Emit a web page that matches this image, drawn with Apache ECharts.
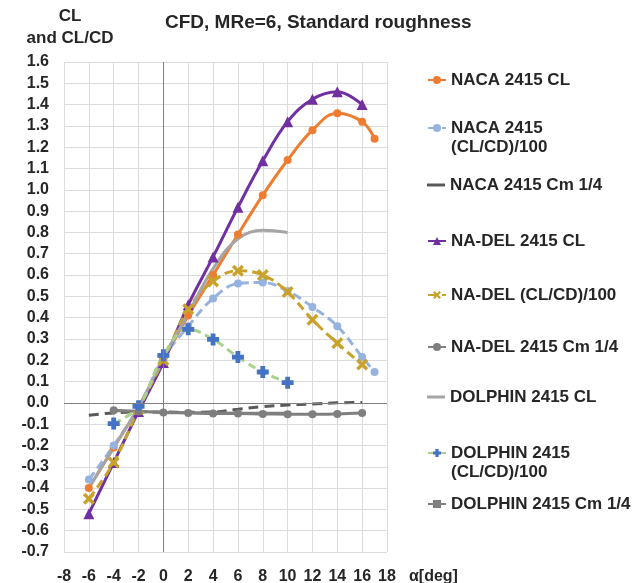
<!DOCTYPE html>
<html>
<head>
<meta charset="utf-8">
<script src="https://cdn.jsdelivr.net/npm/echarts@6/dist/echarts.min.js"></script>
<style>
  html, body { margin: 0; padding: 0; background: #fff; }
  #chart { width: 643px; height: 583px; }
</style>
</head>
<body>
<div id="chart"></div>
<script>
// angles of attack (deg)
const alphaNacaCL = [-6, -4, -2, 0, 2, 4, 6, 8, 10, 12, 14, 16, 17];
const alphaNadel = [-6, -4, -2, 0, 2, 4, 6, 8, 10, 12, 14, 16];
const alphaNadelCm = [-4, -2, 0, 2, 4, 6, 8, 10, 12, 14, 16];
const alphaDolphinCL = [-6, -4, -2, 0, 2, 4, 6, 8, 10];
const alphaDolphin = [-4, -2, 0, 2, 4, 6, 8, 10];

// series values
const nacaCL = [-0.40, -0.21, -0.02, 0.20, 0.41, 0.60, 0.79, 0.975, 1.14, 1.28, 1.36, 1.32, 1.24];
const nacaCLCD = [-0.36, -0.20, -0.02, 0.21, 0.36, 0.49, 0.56, 0.565, 0.525, 0.45, 0.36, 0.215, 0.145];
const nacaCm = [-0.058, -0.047, -0.042, -0.043, -0.044, -0.043, -0.03, -0.018, -0.01, -0.005, 0.0, 0.002];
const nadelCL = [-0.52, -0.28, -0.04, 0.19, 0.46, 0.685, 0.918, 1.136, 1.32, 1.425, 1.46, 1.40];
const nadelCLCD = [-0.45, -0.28, -0.03, 0.20, 0.44, 0.57, 0.62, 0.60, 0.52, 0.39, 0.28, 0.18];
const nadelCm = [-0.035, -0.04, -0.045, -0.047, -0.05, -0.05, -0.052, -0.053, -0.054, -0.052, -0.048];
const dolphinCL = [-0.40, -0.21, -0.02, 0.21, 0.42, 0.63, 0.77, 0.81, 0.80];
const dolphinCLCD = [-0.097, -0.016, 0.223, 0.345, 0.298, 0.215, 0.145, 0.095];
const dolphinCm = [-0.04, -0.04, -0.042, -0.043, -0.044, -0.045, -0.045, -0.045];

const seriesNames = [
  'NACA 2415 CL',
  'NACA 2415 (CL/CD)/100',
  'NACA 2415 Cm 1/4',
  'NA-DEL 2415 CL',
  'NA-DEL (CL/CD)/100',
  'NA-DEL 2415 Cm 1/4',
  'DOLPHIN 2415 CL',
  'DOLPHIN 2415 (CL/CD)/100',
  'DOLPHIN 2415 Cm 1/4'
];
// legend row centres (px), first text line
const legendRows = [80, 128, 185, 241, 295, 347, 397, 453, 504];

const pair = (xs, ys) => xs.map((x, i) => [x, ys[i]]);

const plusPath = 'path://M3,0H7V3H10V7H7V10H3V7H0V3H3Z';
const crossPath = 'path://M2,0L5,3L8,0L10,2L7,5L10,8L8,10L5,7L2,10L0,8L3,5L0,2Z';
const barPath = 'path://M0,0H10V3H0Z';

const font = '"Liberation Sans", Arial, sans-serif';
const twoLine = n => n.indexOf('(CL/CD)') > 0 && n.indexOf('NA-DEL') < 0;
const plainLine = n => n === 'NACA 2415 Cm 1/4' || n === 'DOLPHIN 2415 CL';
const textColor = '#262626';

// second line of the wrapped legend names
const wrapLines = seriesNames
  .map((n, i) => twoLine(n) ? { text: n.slice(n.indexOf('(')), y: legendRows[i] + 20 } : null)
  .filter(Boolean);

let chart = echarts.init(document.getElementById('chart'));

let option = {
  animation: false,
  textStyle: { fontFamily: font },
  title: [
    {
      text: 'CFD, MRe=6, Standard roughness',
      left: 160,
      top: 8,
      textStyle: { fontSize: 19, fontWeight: 'bold', color: textColor, fontFamily: font }
    },
    {
      text: 'CL\nand CL/CD',
      left: 65,
      top: 0,
      textAlign: 'center',
      textStyle: { fontSize: 17, fontWeight: 'bold', color: textColor, lineHeight: 22, fontFamily: font }
    }
  ],
  graphic: [
    {
      type: 'text',
      left: 409,
      top: 569,
      style: { text: 'α[deg]', fontSize: 16, fontWeight: 'bold', fill: textColor, fontFamily: font }
    }
  ].concat(wrapLines.map(w => ({
    type: 'text',
    left: 451,
    top: w.y - 9,
    style: { text: w.text, fontSize: 17, fontWeight: 'bold', fill: textColor, fontFamily: font }
  }))),
  legend: seriesNames.map((name, i) => ({
    data: [plainLine(name) ? { name: name, icon: 'rect' } : name],
    orient: 'vertical',
    left: 422,
    top: legendRows[i] - 15,
    itemWidth: 18,
    itemHeight: plainLine(name) ? 3 : 10,
    selectedMode: false,
    formatter: n => twoLine(n) ? n.slice(0, n.indexOf(' (')) : n,
    textStyle: { fontSize: 17, fontWeight: 'bold', color: textColor, lineHeight: 20, fontFamily: font }
  })),
  grid: {
    left: 64,
    right: 256,
    top: 62,
    bottom: 31,
    containLabel: false,
    outerBoundsMode: 'none'
  },
  xAxis: {
    type: 'value',
    min: -8,
    max: 18,
    interval: 2,
    axisLine: { show: false },
    axisTick: { show: false },
    axisLabel: {
      margin: 17,
      fontSize: 16,
      fontWeight: 'bold',
      color: textColor,
      showMinLabel: true,
      showMaxLabel: true
    },
    splitLine: { show: true, lineStyle: { color: '#dcdcdc', width: 1 } }
  },
  yAxis: {
    type: 'value',
    min: -0.7,
    max: 1.6,
    interval: 0.1,
    axisLine: { show: false },
    axisTick: { show: false },
    axisLabel: {
      margin: 15,
      fontSize: 16,
      fontWeight: 'bold',
      color: textColor,
      formatter: v => (Math.abs(v) < 1e-9 ? 0 : v).toFixed(1)
    },
    splitLine: { show: true, lineStyle: { color: '#dcdcdc', width: 1 } }
  },
  series: [
    {
      name: seriesNames[0],
      type: 'line',
      smooth: 0.4,
      symbol: 'circle',
      symbolSize: 8,
      color: '#ED7D31',
      lineStyle: { width: 3 },
      data: pair(alphaNacaCL, nacaCL),
      markLine: {
        silent: true,
        symbol: 'none',
        label: { show: false },
        lineStyle: { color: '#808080', width: 1, type: 'solid' },
        data: [{ xAxis: 0 }, { yAxis: 0 }]
      }
    },
    {
      name: seriesNames[1],
      type: 'line',
      smooth: 0.4,
      symbol: 'circle',
      symbolSize: 8,
      color: '#95B3DE',
      lineStyle: { width: 3, type: [9, 5] },
      data: pair(alphaNacaCL, nacaCLCD)
    },
    {
      name: seriesNames[2],
      type: 'line',
      smooth: 0.4,
      symbol: 'none',
      color: '#595959',
      lineStyle: { width: 3, type: [10, 6] },
      data: pair(alphaNadel, nacaCm)
    },
    {
      name: seriesNames[3],
      type: 'line',
      smooth: 0.4,
      symbol: 'triangle',
      symbolSize: 11,
      color: '#7030A0',
      lineStyle: { width: 3 },
      data: pair(alphaNadel, nadelCL)
    },
    {
      name: seriesNames[4],
      type: 'line',
      smooth: 0.4,
      symbol: crossPath,
      symbolSize: 12,
      color: '#C9A22A',
      lineStyle: { width: 3, type: [9, 5] },
      data: pair(alphaNadel, nadelCLCD)
    },
    {
      name: seriesNames[5],
      type: 'line',
      smooth: 0.4,
      symbol: 'circle',
      symbolSize: 8,
      color: '#7F7F7F',
      lineStyle: { width: 3 },
      data: pair(alphaNadelCm, nadelCm)
    },
    {
      name: seriesNames[6],
      type: 'line',
      smooth: 0.4,
      symbol: 'none',
      color: '#A5A5A5',
      lineStyle: { width: 3 },
      data: pair(alphaDolphinCL, dolphinCL)
    },
    {
      name: seriesNames[7],
      type: 'line',
      smooth: 0.4,
      symbol: plusPath,
      symbolSize: 12,
      color: '#A9D18E',
      itemStyle: { color: '#4472C4' },
      lineStyle: { width: 3, type: [8, 5], color: '#A9D18E' },
      data: pair(alphaDolphin, dolphinCLCD)
    },
    {
      name: seriesNames[8],
      type: 'line',
      smooth: 0.4,
      symbol: barPath,
      symbolSize: [7, 2],
      color: '#7F7F7F',
      lineStyle: { width: 1.5 },
      data: pair(alphaDolphin, dolphinCm)
    }
  ]
};

chart.setOption(option);
</script>
</body>
</html>
